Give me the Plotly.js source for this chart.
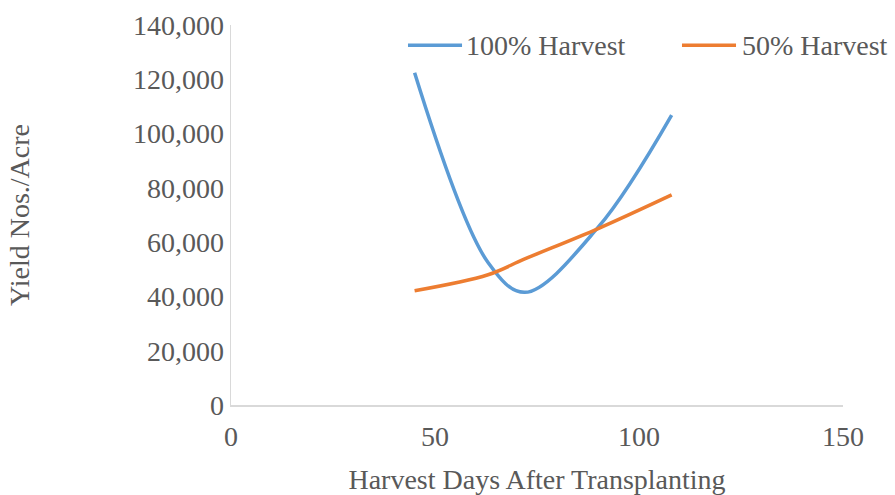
<!DOCTYPE html>
<html>
<head>
<meta charset="utf-8">
<script src="https://cdn.plot.ly/plotly-3.0.1.min.js"></script>
<style>html,body{margin:0;padding:0;background:#fff;}#chart{width:895px;height:495px;}</style>
</head>
<body>
<div id="chart"></div>
<script>
// Harvest days after transplanting
const days = [45, 63, 72, 90, 108];
// Yield (nos./acre)
const harvest100 = [122400, 52500, 41500, 65500, 106800];
const harvest50 = [42100, 48000, 53800, 65000, 77400];
const seriesNames = ['100% Harvest', '50% Harvest'];
const seriesColors = ['#5B9BD5', '#ED7D31'];
const xTicks = [0, 50, 100, 150];
const yTicks = [0, 20000, 40000, 60000, 80000, 100000, 120000, 140000];

const font = 'Liberation Serif, Times New Roman, serif';
const textColor = '#595959';

const traces = [
  {x: days, y: harvest100, name: seriesNames[0], mode: 'lines', type: 'scatter',
   line: {color: seriesColors[0], width: 3.5, shape: 'spline', smoothing: 1}},
  {x: days, y: harvest50, name: seriesNames[1], mode: 'lines', type: 'scatter',
   line: {color: seriesColors[1], width: 3.5, shape: 'spline', smoothing: 1}}
];

// legend drawn as shapes + text (paper coords)
const legendItems = [
  {x0: 0.2892, x1: 0.3775, tx: 0.380},
  {x0: 0.7369, x1: 0.8252, tx: 0.8317}
];
const legendY = 0.947;
const shapes = legendItems.map((it, i) => ({
  type: 'line', xref: 'paper', yref: 'paper', x0: it.x0, x1: it.x1, y0: legendY, y1: legendY,
  line: {color: seriesColors[i], width: 3.5}
}));
const annotations = legendItems.map((it, i) => ({
  xref: 'paper', yref: 'paper', x: it.tx, y: legendY, xanchor: 'left', yanchor: 'middle',
  text: seriesNames[i], showarrow: false, font: {family: font, size: 28, color: textColor}
}));

const layout = {
  width: 895, height: 495,
  margin: {l: 231, r: 52, t: 25, b: 90},
  paper_bgcolor: '#fff', plot_bgcolor: '#fff',
  font: {family: font, color: textColor, size: 28},
  showlegend: false,
  shapes: shapes,
  annotations: annotations,
  xaxis: {range: [0, 150], tickvals: xTicks, ticks: '', showgrid: false, zeroline: false,
          showline: true, linecolor: '#D9D9D9', linewidth: 1.5, ticklabelstandoff: 6,
          tickfont: {family: font, size: 28, color: textColor},
          title: {text: 'Harvest Days After Transplanting', font: {family: font, size: 28, color: textColor}, standoff: 20}},
  yaxis: {range: [0, 140000], tickvals: yTicks, tickformat: ',', ticks: '', showgrid: false, zeroline: false,
          showline: true, linecolor: '#D9D9D9', linewidth: 1.5,
          tickfont: {family: font, size: 28, color: textColor},
          title: {text: 'Yield Nos./Acre', font: {family: font, size: 28, color: textColor}, standoff: 95}}
};

Plotly.newPlot('chart', traces, layout, {displayModeBar: false, staticPlot: true});
</script>
</body>
</html>
